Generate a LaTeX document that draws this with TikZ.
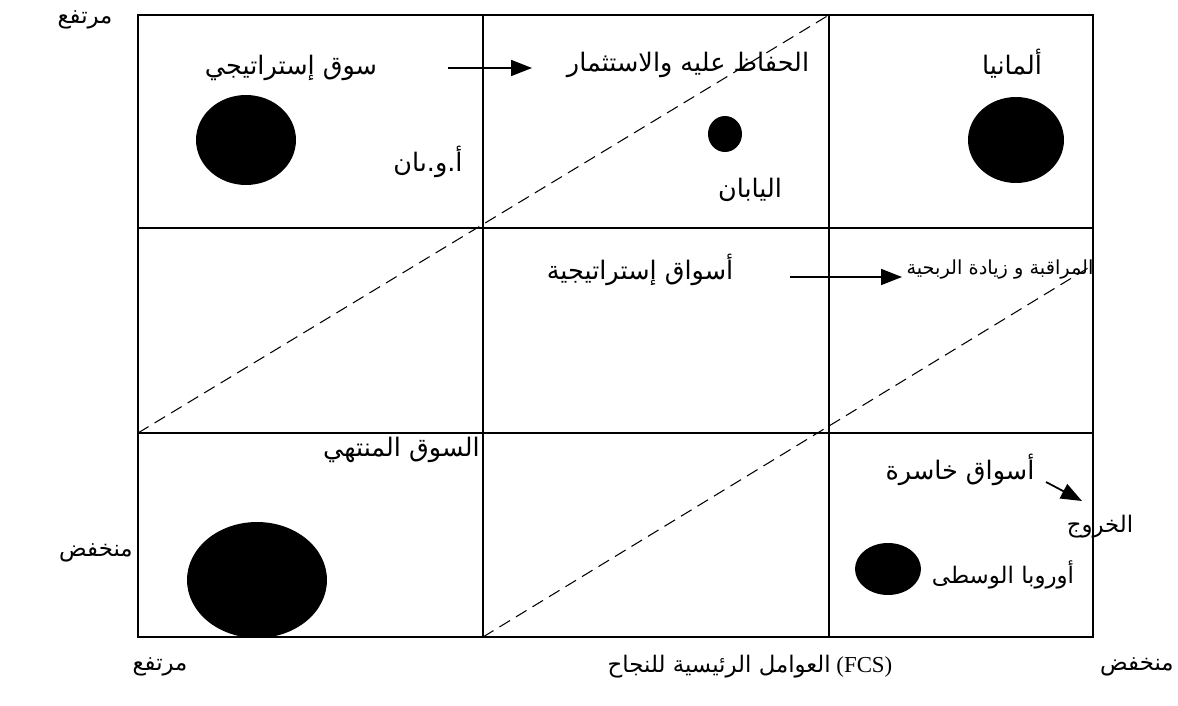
\documentclass[tikz,border=0pt]{standalone}
\usepackage{fontspec}
\setmainfont{Liberation Serif}
\newfontfamily\arabicfont[Script=Arabic]{DejaVu Sans}
\TeXXeTstate=1
\usetikzlibrary{arrows.meta,shapes.geometric}
\newcommand{\artxt}[1]{{\arabicfont\beginR #1\endR}}

\begin{document}
\begin{tikzpicture}[x=0.02cm, y=-0.02cm, every node/.style={font=\fontsize{14.5}{16}\selectfont, inner sep=0pt}, >={Triangle[length=4.2mm,width=3.2mm]}, blob/.style={ellipse, fill=black, inner sep=0pt}, split/.style={line width=0.6pt, dash pattern=on 7pt off 4pt}, axis/.style={font=\fontsize{13}{15}\selectfont}]
	\useasboundingbox (0,0) rectangle (1178,706);
	% grid
	\draw[line width=1pt] (138,15) rectangle (1093,637);
	\draw[line width=1pt] (483,15) -- (483,637);
	\draw[line width=1pt] (829,15) -- (829,637);
	\draw[line width=1pt] (138,228) -- (1093,228);
	\draw[line width=1pt] (138,433) -- (1093,433);
	% dashed borders
	\coordinate (d1s) at (138,433);
	\coordinate (d1e) at (829,15);
	\coordinate (d2s) at (483,637);
	\coordinate (d2e) at (1093,265);
	\draw[split] (d1s) -- (d1e);
	\draw[split] (d2s) -- (d2e);
	% axes labels
	\node[axis] (yhigh) at (85,20) {\artxt{مرتفع}};
	\node[axis, anchor=east] (ylow) at (133,553) {\artxt{منخفض}};
	\node[axis] (xhigh) at (160,667) {\artxt{مرتفع}};
	\node[axis] (xaxis) at (750,667) {\artxt{العوامل الرئيسية للنجاح}\ (FCS)};
	\node[axis, anchor=east] (xlow) at (1174,667) {\artxt{منخفض}};
	% top row
	\node (strat) at (291,68) {\artxt{سوق إستراتيجي}};
	\node (usa) at (428,162) {\artxt{أ.و.ىان}};
	\node[blob, minimum width=2cm, minimum height=1.8cm] (c1) at (246,140) {};
	\node (keep) at (688,65) {\artxt{الحفاظ عليه والاستثمار}};
	\node[blob, minimum width=0.68cm, minimum height=0.72cm] (c2) at (725,134) {};
	\node (japan) at (750,190) {\artxt{اليابان}};
	\node (germany) at (1012,64) {\artxt{ألمانيا}};
	\node[blob, minimum width=1.92cm, minimum height=1.72cm] (c3) at (1016,140) {};
	\coordinate (a1s) at (448,68);
	\coordinate (a1e) at (532,68);
	\draw[->, line width=1pt] (a1s) -- (a1e);
	% middle row
	\node (markets) at (640,270) {\artxt{أسواق إستراتيجية}};
	\node[font=\fontsize{11}{13}\selectfont] (watch) at (1000,270) {\artxt{المراقبة و زيادة الربحية}};
	\coordinate (a2s) at (790,277);
	\coordinate (a2e) at (902,277);
	\draw[->, line width=1pt] (a2s) -- (a2e);
	% bottom row
	\node[anchor=east] (ended) at (480,450) {\artxt{السوق المنتهي}};
	\node[blob, minimum width=2.8cm, minimum height=2.32cm] (c4) at (257,580) {};
	\node (losing) at (960,470) {\artxt{أسواق خاسرة}};
	\coordinate (a3s) at (1046,482);
	\coordinate (a3e) at (1082,501);
	\draw[->, line width=1pt] (a3s) -- (a3e);
	\node[font=\fontsize{13}{15}\selectfont] (exit) at (1100,527) {\artxt{الخروج}};
	\node[font=\fontsize{13}{15}\selectfont] (europe) at (1003,575) {\artxt{أوروبا الوسطى}};
	\node[blob, minimum width=1.32cm, minimum height=1.04cm] (c5) at (888,569) {};
\end{tikzpicture}
\end{document}
